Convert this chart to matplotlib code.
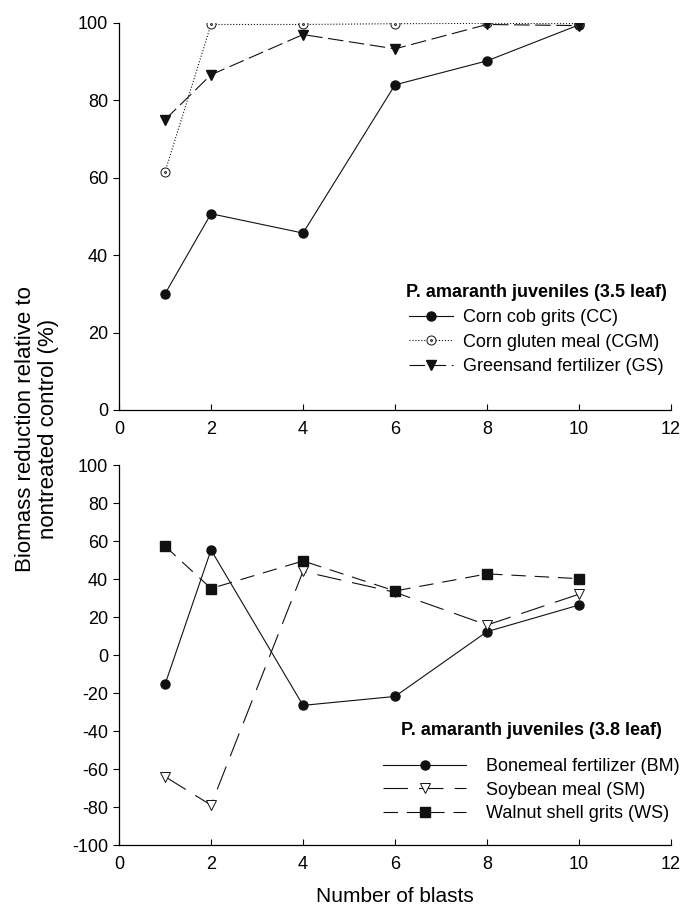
import numpy as np
import matplotlib.pyplot as plt
from matplotlib.path import Path

plt.rcParams['font.family'] = ['Liberation Sans', 'DejaVu Sans']
plt.rcParams['axes.unicode_minus'] = False

# data
blasts = [1, 2, 4, 6, 8, 10]

# 3.5 leaf
cc = [30.0, 50.7, 45.7, 84.0, 90.2, 99.5]
cgm = [61.5, 99.6, 99.6, 99.8, 99.9, 99.8]
gs = [75.0, 86.6, 97.0, 93.3, 99.6, 99.3]

# 3.8 leaf
bm = [-15.5, 55.3, -26.5, -21.8, 12.3, 26.3]
sm = [-64.0, -79.0, 44.0, 33.0, 15.8, 32.0]
ws = [57.3, 35.0, 49.5, 33.7, 42.7, 40.2]

# open circle with a dot in the middle
dot_circle = Path.make_compound_path(Path.unit_circle(), Path.circle((0, 0), 0.2))

fig = plt.figure(figsize=(6.84, 9.10), dpi=100)
ax1 = fig.add_axes([0.174, 0.5495, 0.807, 0.4253])
ax2 = fig.add_axes([0.174, 0.0714, 0.807, 0.4176])

k = dict(color='#111111', lw=0.8)
ax1.plot(blasts, cc, '-', marker='o', ms=6.5, mfc='#111111', label='Corn cob grits (CC)', **k)
ax1.plot(blasts, cgm, ':', marker=dot_circle, ms=6.5, mfc='white', mew=0.7,
         label='Corn gluten meal (CGM)', **k)
ax1.plot(blasts, gs, marker='v', ms=7.5, mfc='#111111', dashes=(14, 5),
         label='Greensand fertilizer (GS)', **k)

ax2.plot(blasts, bm, '-', marker='o', ms=6.5, mfc='#111111', label='Bonemeal fertilizer (BM)', **k)
ax2.plot(blasts, sm, marker='v', ms=7.5, mfc='white', mew=0.7, dashes=(22, 10),
         label='Soybean meal (SM)', **k)
ax2.plot(blasts, ws, marker='s', ms=6.5, mfc='#111111', dashes=(13, 8),
         label='Walnut shell grits (WS)', **k)

for ax, ylim, yt in [(ax1, (0, 100), np.arange(0, 101, 20)),
                     (ax2, (-100, 100), np.arange(-100, 101, 20))]:
    ax.set_xlim(0, 12)
    ax.set_ylim(*ylim)
    ax.set_xticks(np.arange(0, 13, 2))
    ax.set_yticks(yt)
    ax.spines['top'].set_visible(False)
    ax.spines['right'].set_visible(False)
    for s in ['left', 'bottom']:
        ax.spines[s].set_linewidth(0.9)
    ax.tick_params(axis='y', direction='out', length=4, width=0.8, labelsize=13, pad=4)
    ax.tick_params(axis='x', direction='in', length=4, width=0.8, labelsize=13, pad=8)

leg1 = ax1.legend(loc='lower right', bbox_to_anchor=(0.993, 0.09), frameon=False,
                  borderpad=0, borderaxespad=0,
                  title='P. amaranth juveniles (3.5 leaf)', fontsize=13,
                  handlelength=2.4, handletextpad=0.6, labelspacing=0.42)
leg1.get_title().set_fontweight('bold')
leg1.get_title().set_fontsize(13)

leg2 = ax2.legend(loc='lower right', bbox_to_anchor=(1.016, 0.06), frameon=False,
                  borderpad=0, borderaxespad=0,
                  title='P. amaranth juveniles (3.8 leaf)', fontsize=13,
                  handlelength=4.6, handletextpad=1.1, labelspacing=0.36)
leg2.get_title().set_fontweight('bold')
leg2.get_title().set_fontsize(13)
leg2._legend_box.sep = 14

ax2.set_xlabel('Number of blasts', fontsize=15, labelpad=10)
fig.text(0.054, 0.529, 'Biomass reduction relative to\nnontreated control (%)',
         rotation=90, ha='center', va='center', fontsize=16, multialignment='center',
         linespacing=1.1)

fig.savefig('out.png', dpi=100)
